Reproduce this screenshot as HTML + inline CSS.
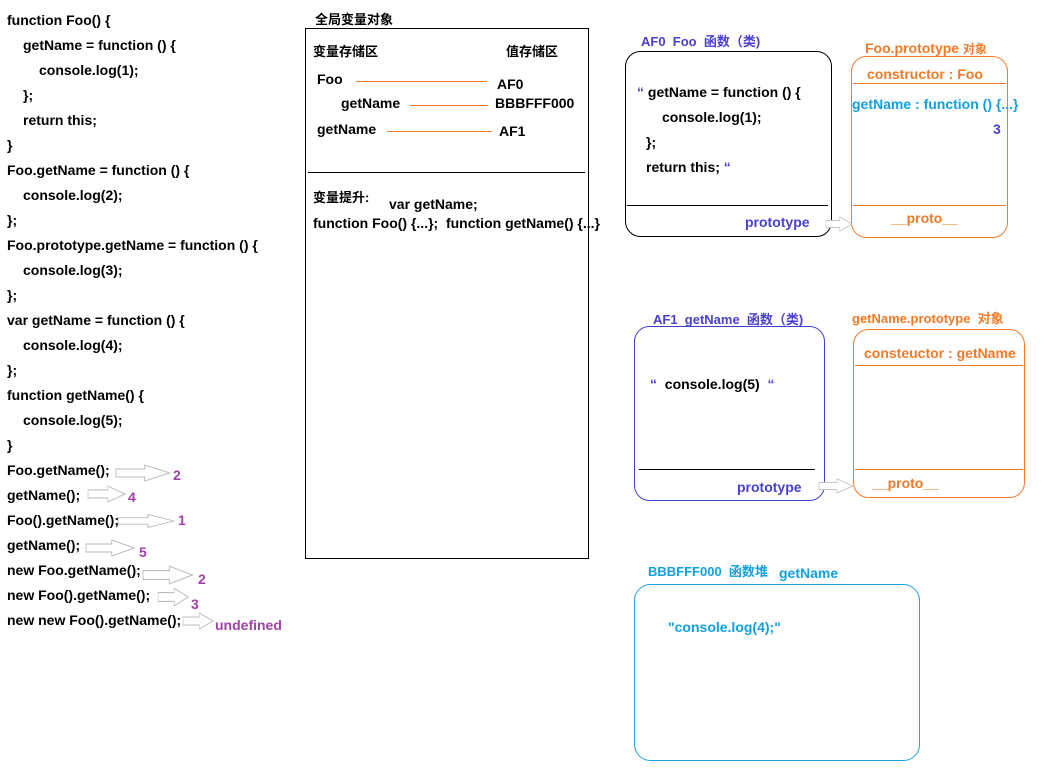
<!DOCTYPE html>
<html><head><meta charset="utf-8"><style>
body{margin:0;width:1048px;height:784px;background:#fff;position:relative;overflow:hidden;font-family:"Liberation Sans","Noto Sans CJK SC",sans-serif;font-weight:bold;font-size:14px;}
.t{position:absolute;line-height:15px;white-space:nowrap;color:#000;}
.p{color:#a040a8}.b{color:#4a3fd0}.o{color:#f07a28}.c{color:#10a0e0}
svg{position:absolute;left:0;top:0}
</style></head><body>
<svg width="1048" height="784" viewBox="0 0 1048 784">
<defs>
<g id="ar"><path d="M0,-4 H30 V-8 L56,0 L30,8 V4 H0 Z" fill="#fff" stroke="#bbb" stroke-width="1"/></g>
</defs>
<rect x="305.5" y="28.5" width="283" height="530" fill="none" stroke="#000"/>
<line x1="308" y1="172.5" x2="585" y2="172.5" stroke="#000"/>
<line x1="356" y1="81.5" x2="487" y2="81.5" stroke="#f07a28"/>
<line x1="410" y1="105.5" x2="488" y2="105.5" stroke="#f07a28"/>
<line x1="387" y1="131.5" x2="492" y2="131.5" stroke="#f07a28"/>
<rect x="625.5" y="51.5" width="206" height="185" rx="15" fill="none" stroke="#000"/>
<line x1="627" y1="205.5" x2="828" y2="205.5" stroke="#000"/>
<rect x="851.5" y="56.5" width="156" height="181" rx="15" fill="none" stroke="#f07a28"/>
<line x1="853" y1="83.5" x2="1006" y2="83.5" stroke="#f07a28"/>
<line x1="853" y1="205.5" x2="1006" y2="205.5" stroke="#f07a28"/>
<rect x="634.5" y="326.5" width="190" height="174" rx="15" fill="none" stroke="#4040d0"/>
<line x1="639" y1="469.5" x2="815" y2="469.5" stroke="#000"/>
<rect x="853.5" y="329.5" width="171" height="168" rx="15" fill="none" stroke="#f07a28"/>
<line x1="855" y1="365.5" x2="1023" y2="365.5" stroke="#f07a28"/>
<line x1="855" y1="469.5" x2="1023" y2="469.5" stroke="#f07a28"/>
<rect x="634.5" y="584.5" width="285" height="176" rx="16" fill="none" stroke="#20a0e0"/>
<use href="#ar" transform="translate(826,224) scale(0.46,0.9)"/>
<use href="#ar" transform="translate(819,486) scale(0.6,0.9)"/>
<use href="#ar" transform="translate(116,473) scale(0.96,1)"/>
<use href="#ar" transform="translate(88,494) scale(0.66,1)"/>
<use href="#ar" transform="translate(118,521) scale(1.0,0.8)"/>
<use href="#ar" transform="translate(86,548) scale(0.86,1)"/>
<use href="#ar" transform="translate(143,575) scale(0.88,1.1)"/>
<use href="#ar" transform="translate(158,597) scale(0.54,1.1)"/>
<use href="#ar" transform="translate(183,621) scale(0.54,1)"/>
</svg>

<div class="t" style="left:7px;top:13px">function Foo() {</div>
<div class="t" style="left:23px;top:38px">getName = function () {</div>
<div class="t" style="left:39px;top:63px">console.log(1);</div>
<div class="t" style="left:23px;top:88px">};</div>
<div class="t" style="left:23px;top:113px">return this;</div>
<div class="t" style="left:7px;top:138px">}</div>
<div class="t" style="left:7px;top:163px">Foo.getName = function () {</div>
<div class="t" style="left:23px;top:188px">console.log(2);</div>
<div class="t" style="left:7px;top:213px">};</div>
<div class="t" style="left:7px;top:238px">Foo.prototype.getName = function () {</div>
<div class="t" style="left:23px;top:263px">console.log(3);</div>
<div class="t" style="left:7px;top:288px">};</div>
<div class="t" style="left:7px;top:313px">var getName = function () {</div>
<div class="t" style="left:23px;top:338px">console.log(4);</div>
<div class="t" style="left:7px;top:363px">};</div>
<div class="t" style="left:7px;top:388px">function getName() {</div>
<div class="t" style="left:23px;top:413px">console.log(5);</div>
<div class="t" style="left:7px;top:438px">}</div>
<div class="t" style="left:7px;top:463px">Foo.getName();</div>
<div class="t" style="left:7px;top:488px">getName();</div>
<div class="t" style="left:7px;top:513px">Foo().getName();</div>
<div class="t" style="left:7px;top:538px">getName();</div>
<div class="t" style="left:7px;top:563px">new Foo.getName();</div>
<div class="t" style="left:7px;top:588px">new Foo().getName();</div>
<div class="t" style="left:7px;top:613px">new new Foo().getName();</div>
<div class="t p" style="left:173px;top:468px">2</div>
<div class="t p" style="left:128px;top:490px">4</div>
<div class="t p" style="left:178px;top:513px">1</div>
<div class="t p" style="left:139px;top:545px">5</div>
<div class="t p" style="left:198px;top:572px">2</div>
<div class="t p" style="left:191px;top:597px">3</div>
<div class="t p" style="left:215px;top:618px">undefined</div>

<div class="t" style="left:315px;top:12px;font-size:13px">全局变量对象</div>
<div class="t" style="left:313px;top:44px;font-size:13px">变量存储区</div>
<div class="t" style="left:506px;top:44px;font-size:13px">值存储区</div>
<div class="t" style="left:317px;top:72px">Foo</div>
<div class="t" style="left:341px;top:96px">getName</div>
<div class="t" style="left:317px;top:122px">getName</div>
<div class="t" style="left:497px;top:77px">AF0</div>
<div class="t" style="left:495px;top:96px">BBBFFF000</div>
<div class="t" style="left:499px;top:124px">AF1</div>
<div class="t" style="left:313px;top:190px;font-size:13px">变量提升:</div>
<div class="t" style="left:389px;top:197px">var getName;</div>
<div class="t" style="left:313px;top:216px">function Foo() {...};&nbsp; function getName() {...}</div>

<div class="t b" style="left:641px;top:34px;font-size:13px">AF0&nbsp; Foo&nbsp; 函数（类)</div>
<div class="t" style="left:637px;top:85px"><span class="b">“</span> getName = function () {</div>
<div class="t" style="left:662px;top:110px">console.log(1);</div>
<div class="t" style="left:646px;top:135px">};</div>
<div class="t" style="left:646px;top:160px">return this; <span class="b">“</span></div>
<div class="t b" style="left:745px;top:215px">prototype</div>
<div class="t o" style="left:865px;top:41px">Foo.prototype <span style="font-size:12px">对象</span></div>
<div class="t o" style="left:867px;top:67px">constructor : Foo</div>
<div class="t c" style="left:852px;top:97px">getName : function () {...}</div>
<div class="t b" style="left:993px;top:122px">3</div>
<div class="t o" style="left:891px;top:211px">__proto__</div>

<div class="t b" style="left:653px;top:312px;font-size:13px">AF1&nbsp; getName&nbsp; 函数（类)</div>
<div class="t" style="left:650px;top:377px"><span class="b">“</span>&nbsp; console.log(5)&nbsp; <span class="b">“</span></div>
<div class="t b" style="left:737px;top:480px">prototype</div>
<div class="t o" style="left:852px;top:311px;font-size:13px">getName.prototype&nbsp; 对象</div>
<div class="t o" style="left:864px;top:346px">consteuctor : getName</div>
<div class="t o" style="left:872px;top:476px">__proto__</div>

<div class="t c" style="left:648px;top:564px;font-size:13px">BBBFFF000&nbsp; 函数堆</div>
<div class="t c" style="left:779px;top:566px">getName</div>
<div class="t c" style="left:668px;top:620px">"console.log(4);"</div>
</body></html>
